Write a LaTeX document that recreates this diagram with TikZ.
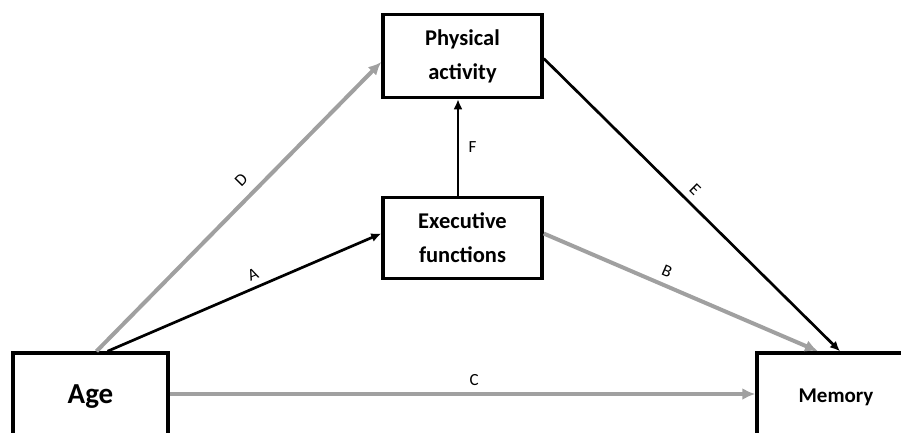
\documentclass[tikz,border=0pt]{standalone}
\usepackage{fontspec}
\setmainfont{Carlito}
\usetikzlibrary{arrows.meta}
\definecolor{pathgray}{RGB}{160,160,160}

\begin{document}
\begin{tikzpicture}[x=1pt, y=-1pt,
    box/.style={draw, line width=3.5pt, rectangle, align=center, inner sep=0pt, font=\bfseries\fontsize{22.5}{34}\selectfont},
    blackpath/.style={black, line width=2.7pt, -{Latex[length=10pt,width=9pt]}},
    graypath/.style={pathgray, line width=4pt, -{Latex[length=13pt,width=12pt]}},
    pathlabel/.style={text=black, font=\fontsize{17}{19}\selectfont}]
            \useasboundingbox (0,0) rectangle (901,432);
            \clip (0,0) rectangle (901,432);

            \node[box, minimum width=155pt, minimum height=88pt, font=\bfseries\fontsize{29}{34}\selectfont] (Age) at (90.5,397) {Age};
            \node[box, minimum width=158pt, minimum height=88pt, font=\bfseries\fontsize{21}{25}\selectfont] (Memory) at (836,397) {Memory};
            \node[box, minimum width=159pt, minimum height=83pt] (PhysAct) at (462.5,56) {Physical\\activity};
            \node[box, minimum width=159pt, minimum height=81pt] (ExecFun) at (462.5,238) {Executive\\functions};

            \draw[graypath] ([yshift=3pt]Age.east) -- ([yshift=3pt]Memory.west) node[pathlabel, pos=0.52, above=3pt] {C};% direct effect
            \draw[graypath] ([xshift=6pt]Age.north) -- ([yshift=-6pt]PhysAct.west) node[pathlabel, pos=0.55, sloped, above=6pt] {D};
            \draw[blackpath] ([xshift=17pt]Age.north) -- ([yshift=4.5pt]ExecFun.west) node[pathlabel, pos=0.55, sloped, above=3pt] {A};
            \draw[graypath] ([yshift=4.5pt]ExecFun.east) -- ([xshift=-18pt]Memory.north) node[pathlabel, pos=0.43, sloped, above=3pt] {B};
            \draw[blackpath] ([yshift=-2.5pt]PhysAct.east) -- ([xshift=4pt]Memory.north) node[pathlabel, pos=0.48, sloped, above=3pt] {E};
            \draw[blackpath] ([xshift=-4.5pt]ExecFun.north) -- ([xshift=-4.5pt]PhysAct.south) node[pathlabel, midway, right=6pt] {F};
        \end{tikzpicture}
\end{document}
